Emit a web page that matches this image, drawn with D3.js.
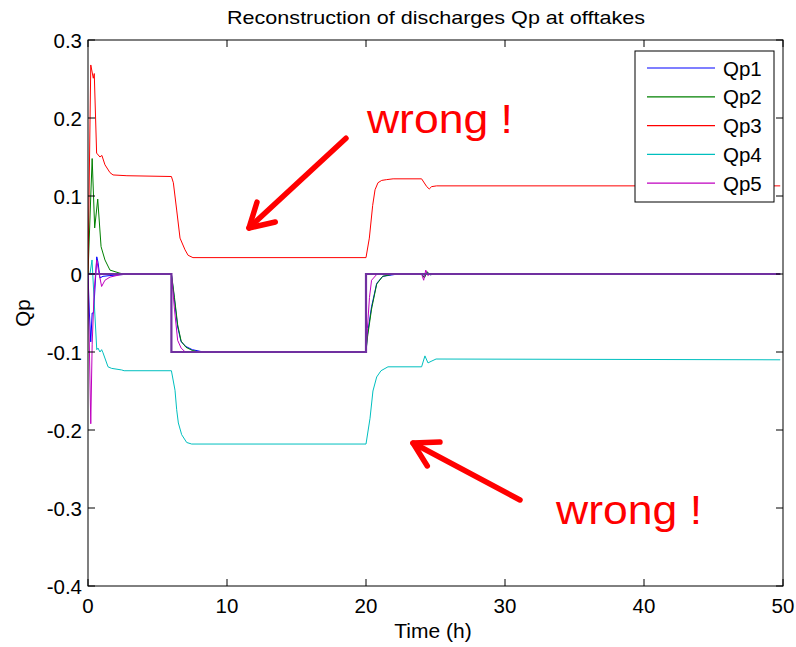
<!DOCTYPE html>
<html>
<head>
<meta charset="utf-8">
<script src="https://cdn.jsdelivr.net/npm/d3@7"></script>
<style>
  body { margin: 0; background: #fff; }
  svg { display: block; }
  text { font-family: "Liberation Sans", Arial, sans-serif; }
</style>
</head>
<body>
<svg id="chart" width="796" height="647"></svg>
<script>
// ---------- DATA ----------
const title = "Reconstruction of discharges Qp at offtakes";
const xLabel = "Time (h)";
const yLabel = "Qp";
const xTicks = [0, 10, 20, 30, 40, 50];
const xTickLabels = ["0", "10", "20", "30", "40", "50"];
const yTicks = [-0.4, -0.3, -0.2, -0.1, 0, 0.1, 0.2, 0.3];
const yTickLabels = ["-0.4", "-0.3", "-0.2", "-0.1", "0", "0.1", "0.2", "0.3"];
const seriesNames = ["Qp1", "Qp2", "Qp3", "Qp4", "Qp5"];
const seriesColors = ["#0000ff", "#008000", "#ff0000", "#00bfbf", "#bf00bf"];
const tEnd = 49.8;

const qp1T = [0, 0.1, 0.2, 0.3, 0.4, 0.63, 0.72, 0.86, 1.08, 1.58, 2.3, 3, 6, 6.1, 6.22, 6.45, 6.7, 7.05, 7.5, 8.3, 20, 20.1, 20.4, 20.77, 21.2, 22.3, 24, 24.2, 24.4, 24.6, 25, tEnd];
const qp1V = [0, -0.05, -0.087, -0.05, -0.05, 0.022, 0.015, -0.005, -0.003, -0.002, -0.001, 0, 0, -0.015, -0.033, -0.068, -0.087, -0.093, -0.097, -0.1, -0.1, -0.078, -0.042, -0.012, -0.003, 0, 0, -0.004, 0.002, -0.001, 0, 0];

const qp2T = [0, 0.2, 0.3, 0.48, 0.7, 0.94, 1.22, 1.58, 2.3, 2.6, 6, 6.1, 6.22, 6.45, 6.7, 7.05, 7.5, 8.0, 20, 20.1, 20.4, 20.77, 21.2, 22, 24, 24.2, 24.4, 24.6, 25, tEnd];
const qp2V = [0, 0.1, 0.148, 0.059, 0.096, 0.035, 0.018, 0.005, 0.001, 0, 0, -0.013, -0.03, -0.065, -0.086, -0.094, -0.098, -0.1, -0.1, -0.082, -0.045, -0.013, -0.003, 0, 0, -0.005, 0.003, -0.001, 0, 0];

const qp3T = [0, 0.2, 0.38, 0.45, 0.62, 0.86, 1.0, 1.22, 1.58, 1.8, 2.8, 6.0, 6.14, 6.38, 6.62, 6.98, 7.2, 7.55, 20, 20.24, 20.48, 20.65, 20.86, 21.13, 21.49, 21.95, 24.0, 24.37, 24.55, 24.72, 25.08, tEnd];
const qp3V = [0, 0.268, 0.251, 0.257, 0.155, 0.15, 0.152, 0.14, 0.13, 0.127, 0.126, 0.125, 0.117, 0.082, 0.046, 0.031, 0.024, 0.021, 0.021, 0.046, 0.088, 0.108, 0.117, 0.12, 0.121, 0.122, 0.122, 0.112, 0.109, 0.112, 0.113, 0.113];

const qp4T = [0, 0.14, 0.29, 0.43, 0.63, 0.72, 0.86, 0.98, 1.08, 1.44, 1.7, 2.42, 2.6, 6.0, 6.26, 6.38, 6.5, 6.74, 7.1, 7.46, 20, 20.29, 20.5, 20.77, 21.08, 21.58, 24.0, 24.24, 24.46, 24.68, 25.04, tEnd];
const qp4V = [0, 0.0, 0.018, -0.03, -0.097, -0.095, -0.1, -0.097, -0.101, -0.119, -0.121, -0.123, -0.124, -0.124, -0.149, -0.174, -0.191, -0.206, -0.216, -0.218, -0.218, -0.185, -0.15, -0.132, -0.124, -0.119, -0.119, -0.105, -0.114, -0.112, -0.109, -0.11];

const qp5T = [0, 0.2, 0.3, 0.45, 0.63, 0.75, 0.98, 1.22, 1.58, 2.3, 3, 6, 6.1, 6.22, 6.45, 6.7, 7.0, 20, 20.1, 20.25, 20.4, 20.8, 24, 24.15, 24.3, 24.45, 24.6, tEnd];
const qp5V = [0, -0.192, -0.09, -0.02, 0.018, 0.005, -0.016, -0.008, -0.004, -0.001, 0, 0, -0.02, -0.045, -0.085, -0.095, -0.1, -0.1, -0.07, -0.03, -0.008, 0, 0, -0.008, 0.005, -0.002, 0, 0];

// reference (imposed) discharge step
const refT = [0, 6, 6, 20, 20, tEnd];
const refV = [0, 0, -0.1, -0.1, 0, 0];

// annotations (data units)
const noteText = ["wrong !", "wrong !"];
const noteAt = [[20.07, 0.181], [33.67, -0.3205]];
const arrowFrom = [[18.56, 0.174], [31.08, -0.2897]];
const arrowTo = [[11.58, 0.059], [23.38, -0.2167]];

// ---------- CHART ----------
const svg = d3.select("#chart");
const L = 88, R = 783, T = 40, B = 586;
const x = d3.scaleLinear().domain([0, 50]).range([L, R]);
const y = d3.scaleLinear().domain([-0.4, 0.3]).range([B, T]);

svg.append("rect").attr("width", 796).attr("height", 647).attr("fill", "#fff");

svg.append("clipPath").attr("id", "clip").append("rect")
  .attr("x", L).attr("y", T).attr("width", R - L).attr("height", B - T);

const line = d3.line().x(d => x(d[0])).y(d => y(d[1]));
const seriesT = [qp1T, qp2T, qp3T, qp4T, qp5T];
const seriesV = [qp1V, qp2V, qp3V, qp4V, qp5V];

const plot = svg.append("g").attr("clip-path", "url(#clip)");
seriesT.forEach((ts, i) => {
  plot.append("path")
    .datum(ts.map((t, j) => [t, seriesV[i][j]]))
    .attr("d", line)
    .attr("fill", "none")
    .attr("stroke", seriesColors[i])
    .attr("stroke-width", 1);
});
plot.append("path")
  .datum(refT.map((t, j) => [t, refV[j]]))
  .attr("d", line)
  .attr("fill", "none")
  .attr("stroke", "#7030a0")
  .attr("stroke-width", 2.2);

// axes box with inward ticks
const tickLen = 7;
const axG = svg.append("g").attr("stroke", "#000").attr("stroke-width", 1);
axG.append("rect").attr("x", L).attr("y", T).attr("width", R - L).attr("height", B - T).attr("fill", "none");
xTicks.forEach(v => {
  axG.append("line").attr("x1", x(v)).attr("x2", x(v)).attr("y1", B).attr("y2", B - tickLen);
  axG.append("line").attr("x1", x(v)).attr("x2", x(v)).attr("y1", T).attr("y2", T + tickLen);
});
yTicks.forEach(v => {
  axG.append("line").attr("x1", L).attr("x2", L + tickLen).attr("y1", y(v)).attr("y2", y(v));
  axG.append("line").attr("x1", R).attr("x2", R - tickLen).attr("y1", y(v)).attr("y2", y(v));
});

// tick labels
svg.append("g").selectAll("text").data(xTicks).join("text")
  .attr("x", d => x(d)).attr("y", 613)
  .attr("text-anchor", "middle").attr("font-size", 20.5).attr("fill", "#000")
  .text((d, i) => xTickLabels[i]);
svg.append("g").selectAll("text").data(yTicks).join("text")
  .attr("x", L - 6).attr("y", d => y(d) + 7.5)
  .attr("text-anchor", "end").attr("font-size", 20.5).attr("fill", "#000")
  .text((d, i) => yTickLabels[i]);

// title & labels
svg.append("text").attr("x", 436).attr("y", 24).attr("text-anchor", "middle")
  .attr("font-size", 19).attr("fill", "#000")
  .attr("textLength", 418).attr("lengthAdjust", "spacingAndGlyphs").text(title);
svg.append("text").attr("x", 433).attr("y", 638).attr("text-anchor", "middle")
  .attr("font-size", 21).attr("fill", "#000").text(xLabel);
svg.append("text").attr("transform", `translate(30,${(T + B) / 2}) rotate(-90)`)
  .attr("text-anchor", "middle").attr("font-size", 20.5).attr("fill", "#000").text(yLabel);

// legend
const lg = svg.append("g");
lg.append("rect").attr("x", 635).attr("y", 51).attr("width", 139).attr("height", 151)
  .attr("fill", "#fff").attr("stroke", "#000").attr("stroke-width", 1);
seriesNames.forEach((n, i) => {
  const yy = 68 + i * 28.8;
  lg.append("line").attr("x1", 647).attr("x2", 715).attr("y1", yy).attr("y2", yy)
    .attr("stroke", seriesColors[i]).attr("stroke-width", 1.2);
  lg.append("text").attr("x", 723).attr("y", yy + 7.5).attr("font-size", 20.5).attr("fill", "#000").text(n);
});

// annotations
noteText.forEach((s, i) => {
  svg.append("text").attr("x", x(noteAt[i][0])).attr("y", y(noteAt[i][1]))
    .attr("font-family", "Lato, 'Open Sans', sans-serif")
    .attr("font-size", 40).attr("fill", "#ff0000")
    .attr("textLength", 146).attr("lengthAdjust", "spacingAndGlyphs")
    .text(s);
  const x0 = x(arrowFrom[i][0]), y0 = y(arrowFrom[i][1]);
  const x1 = x(arrowTo[i][0]), y1 = y(arrowTo[i][1]);
  const ang = Math.atan2(y0 - y1, x0 - x1);
  const hl = 27, ha = 30 * Math.PI / 180;
  const w1 = [x1 + hl * Math.cos(ang + ha), y1 + hl * Math.sin(ang + ha)];
  const w2 = [x1 + hl * Math.cos(ang - ha), y1 + hl * Math.sin(ang - ha)];
  const g = svg.append("g").attr("stroke", "#ff0000").attr("stroke-width", 5.5)
    .attr("stroke-linecap", "round").attr("stroke-linejoin", "round").attr("fill", "none");
  g.append("path").attr("d", `M${x0},${y0}L${x1},${y1}`);
  g.append("path").attr("d", `M${w1[0]},${w1[1]}L${x1},${y1}L${w2[0]},${w2[1]}`);
});
</script>
</body>
</html>
